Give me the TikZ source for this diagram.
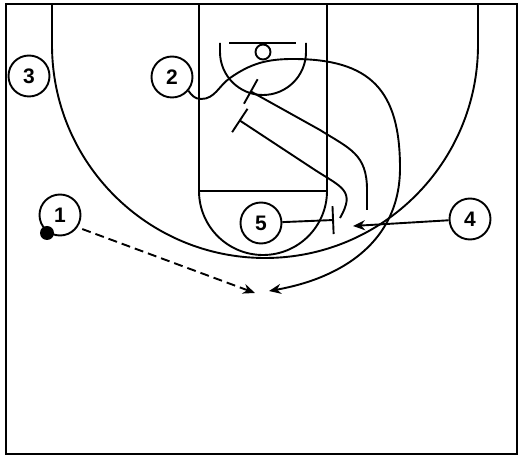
\documentclass[tikz,border=0pt]{standalone}
\usepackage{fontspec}
\setmainfont{Liberation Sans}
\usetikzlibrary{arrows.meta}

\begin{document}
\begin{tikzpicture}[
    x=1pt,y=1pt,
    line width=1.9pt,
    player/.style={draw,circle,minimum size=41pt,inner sep=0pt,font=\fontsize{21}{24}\selectfont\bfseries},
    ballnode/.style={circle,fill=black,minimum size=14pt,inner sep=0pt},
    cutline/.style={-{Stealth[length=12pt,width=10pt]}},
    passline/.style={cutline,dash pattern=on 9pt off 5pt},
    screenline/.style={-{Bar[width=28pt]}},
  ]

  \useasboundingbox (0,0) rectangle (525,458);

  % court

  \draw[line width=2.8pt] (6,4) rectangle (517,454);
  \draw (52,454) -- (52,413) arc[start angle=180,end angle=360,radius=213] -- (478,454);
  \draw (199,454) -- (199,267) -- (327,267) -- (327,454);
  \draw (199,267) arc[start angle=180,end angle=360,radius=64];
  \draw (229,415) -- (296,415);
  \draw (263,406) circle[radius=7.5];
  \draw (220,415) -- (220,406) arc[start angle=180,end angle=360,radius=43] -- (306,415);

  % players

  \node (p1) at (60,243) [player] {1};
  \node (p2) at (172,381) [player] {2};
  \node (p3) at (29,382) [player] {3};
  \node (p4) at (470,239) [player] {4};
  \node (p5) at (261,235) [player] {5};

  \node (ball) at (47,225) [ballnode] {};

  % end points

  \coordinate (pass1) at (255,165);
  \coordinate (cut2) at (269,167);
  \coordinate (cut4) at (353,232);
  \coordinate (scr5a) at (334,238);
  \coordinate (hook5) at (340,240);
  \coordinate (scr5b) at (239,338);
  \coordinate (start4) at (367,248);
  \coordinate (scr4) at (250,367);

  % pass and cuts

  \draw[passline,shorten <=5pt] (p1.-35) -- (pass1);
  \draw[cutline] (p4) -- (cut4);
  \draw[cutline] (p2.-40) to[out=-55,in=180] (201,359) to[out=0,in=215] (230,380)
    to[out=35,in=180] (293,399) to[out=0,in=90,looseness=1.3] (400,290)
    to[out=-90,in=10,looseness=1.05] (cut2);

  % screens

  \draw[screenline] (p5) -- (scr5a);
  \draw[screenline] (hook5) to[out=60,in=-33,looseness=1.5] (315,288) -- (scr5b);
  \draw[screenline] (start4) -- (367,268) to[out=90,in=-32,looseness=1.2] (320,328) -- (scr4);

\end{tikzpicture}
\end{document}
